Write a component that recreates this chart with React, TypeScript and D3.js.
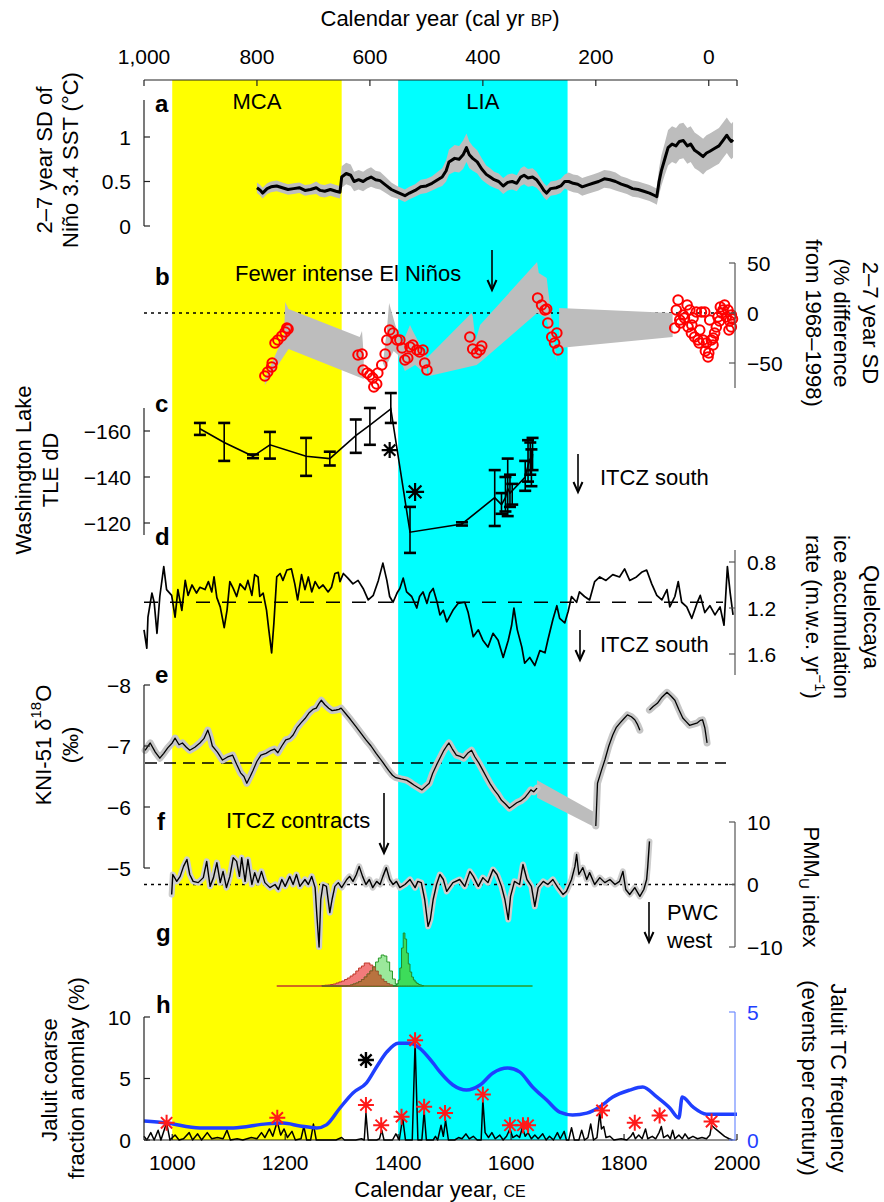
import React from 'react';
import * as d3 from 'd3';

const FONT = 'Liberation Sans, Arial, Helvetica, sans-serif';

// ---------------- axes ----------------
const bottomTicks = [1000, 1200, 1400, 1600, 1800, 2000];
const topTicks = [1000, 800, 600, 400, 200, 0];
const topTickLabels = ['1,000', '800', '600', '400', '200', '0'];
const periods = [
  { name: 'MCA', start: 1000, end: 1300, color: '#ffff00' },
  { name: 'LIA', start: 1400, end: 1700, color: '#00ffff' },
];

// ---------------- panel a: 2-7 yr SD of Nino 3.4 SST ----------------
const aYears = [1150,1156,1160,1168,1175,1185,1195,1205,1215,1225,1235,1245,1255,1262,1270,1280,1290,1297,1300,1308,1316,1322,1330,1338,1345,1352,1360,1368,1378,1388,1398,1405,1412,1420,1430,1440,1450,1460,1470,1478,1485,1490,1500,1508,1515,1521,1526,1532,1540,1548,1556,1563,1570,1578,1586,1594,1602,1610,1617,1623,1630,1638,1645,1652,1658,1663,1670,1680,1688,1695,1702,1710,1718,1726,1735,1745,1755,1765,1775,1785,1795,1805,1815,1825,1835,1845,1855,1858,1862,1866,1872,1878,1885,1892,1898,1905,1912,1918,1925,1932,1940,1946,1952,1960,1968,1975,1982,1986,1990,1993];
const aVals = [0.43,0.40,0.37,0.42,0.44,0.45,0.43,0.41,0.42,0.43,0.40,0.41,0.43,0.40,0.39,0.41,0.39,0.38,0.55,0.59,0.57,0.50,0.52,0.50,0.53,0.55,0.52,0.51,0.46,0.41,0.38,0.36,0.34,0.37,0.40,0.44,0.45,0.48,0.52,0.55,0.62,0.72,0.76,0.75,0.80,0.88,0.80,0.76,0.72,0.64,0.58,0.55,0.52,0.50,0.45,0.49,0.50,0.48,0.55,0.57,0.54,0.55,0.52,0.46,0.40,0.37,0.42,0.43,0.45,0.50,0.50,0.48,0.47,0.44,0.46,0.48,0.50,0.53,0.52,0.50,0.47,0.45,0.42,0.41,0.39,0.37,0.34,0.33,0.50,0.62,0.75,0.88,0.92,0.90,0.95,0.96,0.90,0.92,0.85,0.82,0.78,0.82,0.84,0.87,0.90,0.96,1.02,0.98,0.95,0.97];
const aErr = [0.06,0.06,0.06,0.06,0.06,0.06,0.06,0.06,0.06,0.06,0.06,0.06,0.07,0.07,0.07,0.07,0.07,0.07,0.12,0.12,0.12,0.11,0.11,0.11,0.11,0.11,0.10,0.10,0.09,0.08,0.07,0.07,0.07,0.07,0.07,0.08,0.08,0.08,0.09,0.10,0.12,0.14,0.15,0.15,0.16,0.16,0.15,0.14,0.13,0.12,0.10,0.10,0.09,0.09,0.09,0.09,0.09,0.09,0.10,0.10,0.10,0.10,0.09,0.08,0.08,0.08,0.08,0.08,0.08,0.08,0.10,0.10,0.10,0.10,0.10,0.10,0.10,0.10,0.10,0.10,0.09,0.09,0.09,0.09,0.09,0.09,0.09,0.09,0.15,0.17,0.18,0.20,0.20,0.20,0.20,0.20,0.20,0.20,0.20,0.20,0.20,0.20,0.20,0.20,0.20,0.20,0.20,0.20,0.20,0.20];

// ---------------- panel b: % difference from 1968-1998 ----------------
const bPoints = [
  [1164,-63],[1169,-59],[1176,-54],[1177,-50],[1182,-30],[1187,-27],[1194,-23],[1200,-19],[1205,-16],[1203,-15],
  [1329,-42],[1336,-41],[1338,-57],[1345,-60],[1350,-62],[1355,-65],[1362,-71],[1357,-74],[1364,-60],[1371,-52],[1377,-41],
  [1380,-27],[1385,-17],[1391,-20],[1398,-27],[1403,-27],[1407,-35],[1412,-47],[1417,-45],[1421,-34],[1426,-32],[1433,-37],[1438,-39],[1444,-37],[1447,-50],[1451,-57],
  [1527,-24],[1532,-36],[1539,-40],[1545,-37],[1548,-33],
  [1647,15],[1654,8],[1660,3],[1663,4],[1665,-10],[1672,-24],[1681,-20],[1677,-30],[1683,-37],
];
const bCluster = [
  [1895.7,13],[1892.6,3],[1889.8,-15],[1898.7,-7],[1900,-10],[1904.6,-2],[1907,-5],[1911.7,8],[1916.4,3],[1913.4,-14],[1919.3,-20],[1920,-12],[1922.2,-5],[1928,1],[1925,-24],[1930.9,-27],[1933,-30],[1934,-17],[1937,1],[1942.9,1],[1940,-27],[1944,-38],[1945.8,-30],[1948.7,-44],[1950,-40],[1951.7,-7],[1954.6,-27],[1957.5,-32],[1958,-25],[1960.4,-20],[1963.4,-14],[1966.3,-4],[1969,-8],[1970.5,6],[1973,0],[1975.2,3],[1978.1,8],[1981.1,-4],[1984,3],[1985.8,-17],[1987,-8],[1990,-2],[1990,-14],[1992,-6],
];
const bEnvelopes = [
  [[1164,-72],[1164,-66],[1198,-22],[1200,11],[1206,4],[1332,-24],[1336,-18],[1339,-42],[1339,-66],[1206,-36]],
  [[1373,-50],[1380,-17],[1384,10],[1395,-12],[1406,-30],[1410,-27],[1421,-12],[1426,-18],[1451,-45],[1451,-62],[1430,-52],[1412,-58],[1400,-42],[1392,-38],[1377,-55]],
  [[1451,-45],[1530,0],[1532,-3],[1537,-28],[1545,-12],[1646,51],[1649,40],[1663,35],[1681,-49],[1662,-5],[1646,0],[1550,-47],[1539,-52],[1455,-63]],
  [[1685,5],[1886,0],[1886,-24],[1685,-35]],
];

// ---------------- panel c: Washington Lake TLE dD ----------------
const cYears = [1049,1092,1143,1173,1237,1279,1325,1350,1387,1421,1513,1571,1583,1590,1594,1598,1602,1625,1630,1634,1636,1638];
const cVals = [-161,-155,-149,-154,-149,-148,-158,-162.6,-169.6,-116,-119.6,-131,-128,-131,-135,-133,-134,-140,-145,-148,-143,-150];
const cErrTop = [-163.5,-163.5,-149.8,-159.6,-157,-151,-165,-170,-176.5,-127,-120.3,-143,-133,-140,-148,-141,-137,-147,-156,-155,-152,-157];
const cErrBot = [-158.3,-147,-148.2,-148,-140.5,-145,-150.5,-154,-163.5,-107,-118.9,-118.7,-124,-125,-123,-127,-128,-134,-138,-141,-136,-143];
const cStars = [[1385,-151.7],[1430,-133.5]];

// ---------------- panel d: Quelccaya ice accumulation ----------------
const dData = [
  [950,1.39],[955,1.55],[957,1.28],[964,1.07],[968,1.15],[973,1.42],[978,1.10],[985,0.84],[990,1.04],[999,1.09],[1005,1.28],[1010,1.04],[1017,1.22],[1023,0.96],[1028,1.09],[1035,1.00],[1043,1.07],[1049,1.02],[1058,1.04],[1064,0.97],[1070,1.06],[1074,0.93],[1079,1.11],[1085,1.19],[1092,1.37],[1097,1.22],[1102,0.97],[1108,1.03],[1114,1.10],[1120,0.99],[1129,1.04],[1134,0.96],[1141,1.09],[1146,0.91],[1152,0.93],[1155,1.10],[1161,1.07],[1167,1.22],[1171,1.39],[1176,1.59],[1180,1.33],[1185,0.93],[1191,0.90],[1196,0.96],[1203,0.87],[1211,0.86],[1217,0.99],[1222,1.13],[1229,0.91],[1235,1.04],[1241,0.93],[1247,1.06],[1253,0.97],[1260,1.03],[1267,1.00],[1276,1.06],[1282,1.02],[1288,0.90],[1294,0.89],[1297,0.97],[1303,0.90],[1311,0.94],[1320,0.99],[1329,0.96],[1338,1.03],[1347,1.13],[1356,1.09],[1365,0.96],[1373,0.81],[1380,0.96],[1385,1.10],[1391,1.15],[1398,1.07],[1403,1.03],[1409,0.94],[1415,1.06],[1424,1.10],[1433,1.20],[1438,1.10],[1444,1.06],[1451,1.16],[1456,1.07],[1462,1.03],[1469,1.15],[1474,1.26],[1480,1.22],[1486,1.32],[1497,1.22],[1506,1.16],[1518,1.15],[1524,1.24],[1533,1.45],[1542,1.39],[1550,1.48],[1559,1.54],[1568,1.42],[1577,1.48],[1586,1.63],[1595,1.48],[1601,1.35],[1605,1.20],[1611,1.39],[1619,1.54],[1624,1.68],[1633,1.63],[1642,1.70],[1651,1.57],[1660,1.59],[1665,1.48],[1674,1.30],[1681,1.18],[1686,1.29],[1695,1.33],[1701,1.23],[1707,1.10],[1716,1.15],[1721,1.06],[1730,1.10],[1739,1.13],[1748,0.97],[1757,0.93],[1768,0.96],[1780,0.91],[1792,0.93],[1801,0.86],[1810,0.96],[1822,0.93],[1831,0.89],[1840,0.87],[1849,0.99],[1858,1.09],[1867,1.13],[1876,1.04],[1881,1.19],[1890,1.10],[1896,0.97],[1902,1.15],[1911,1.19],[1920,1.29],[1929,1.16],[1935,1.09],[1943,1.24],[1952,1.18],[1961,1.26],[1970,1.19],[1977,1.35],[1983,0.84],[1988,1.07],[1993,1.26],
];
const dMean = 1.15;

// ---------------- panel e: KNI-51 d18O ----------------
const eData = [
  [952,-6.93],[961,-7.05],[970,-6.9],[978,-6.8],[985,-6.88],[992,-6.97],[1000,-7.05],[1005,-7.13],[1012,-7.02],[1018,-7.05],[1025,-6.98],[1031,-6.93],[1040,-6.98],[1049,-7.05],[1056,-7.12],[1063,-7.26],[1067,-7.15],[1071,-7.0],[1080,-6.9],[1089,-6.77],[1098,-6.82],[1107,-6.85],[1114,-6.7],[1121,-6.56],[1127,-6.5],[1132,-6.39],[1138,-6.5],[1143,-6.6],[1150,-6.75],[1157,-6.85],[1166,-6.88],[1175,-6.93],[1181,-6.95],[1187,-6.89],[1194,-7.0],[1201,-7.1],[1208,-7.12],[1214,-7.18],[1221,-7.3],[1228,-7.38],[1235,-7.45],[1242,-7.54],[1249,-7.6],[1255,-7.62],[1260,-7.7],[1264,-7.75],[1270,-7.68],[1277,-7.62],[1283,-7.58],[1290,-7.59],[1295,-7.6],[1299,-7.62],[1308,-7.52],[1316,-7.43],[1325,-7.32],[1334,-7.21],[1343,-7.1],[1352,-7.0],[1361,-6.88],[1370,-6.77],[1377,-6.68],[1383,-6.6],[1390,-6.52],[1396,-6.48],[1405,-6.46],[1415,-6.44],[1422,-6.4],[1428,-6.36],[1435,-6.32],[1442,-6.28],[1448,-6.33],[1455,-6.39],[1461,-6.55],[1468,-6.69],[1475,-6.82],[1481,-6.93],[1486,-7.0],[1490,-7.05],[1496,-6.95],[1503,-6.85],[1510,-6.83],[1516,-6.8],[1523,-6.88],[1530,-6.93],[1536,-6.82],[1543,-6.72],[1550,-6.6],[1557,-6.48],[1563,-6.38],[1570,-6.28],[1577,-6.2],[1583,-6.11],[1590,-6.05],[1597,-5.98],[1603,-6.02],[1610,-6.07],[1617,-6.1],[1624,-6.15],[1630,-6.22],[1635,-6.28],[1640,-6.25],[1646,-6.31],
  [1700,null],
  [1750,-5.69],[1753,-6.39],[1760,-6.6],[1766,-6.77],[1773,-7.0],[1780,-7.18],[1786,-7.3],[1793,-7.38],[1800,-7.45],[1806,-7.51],[1813,-7.48],[1819,-7.43],[1824,-7.35],[1828,-7.26],
  [1836,null],
  [1845,-7.59],[1852,-7.65],[1859,-7.7],[1867,-7.8],[1876,-7.88],[1883,-7.82],[1890,-7.75],[1897,-7.6],[1904,-7.46],[1910,-7.4],[1916,-7.34],[1923,-7.36],[1930,-7.38],[1935,-7.42],[1939,-7.43],[1943,-7.3],[1947,-7.05],
];
const eGapBand = [[1646,-6.44],[1750,-5.9],[1750,-5.66],[1646,-6.15]];
const eMean = -6.72;

// ---------------- panel f: PMMU index ----------------
const fData = [
  [999,-1.6],[1001,1.6],[1008,0.5],[1014,1.3],[1020,2.9],[1026,4.0],[1031,1.6],[1037,0.5],[1046,0.3],[1055,1.1],[1061,3.7],[1067,-0.3],[1073,1.1],[1079,3.5],[1085,0.3],[1090,2.1],[1096,-0.5],[1102,1.3],[1108,4.3],[1114,3.7],[1119,1.3],[1123,4.3],[1129,0.5],[1134,4.0],[1141,0],[1146,1.9],[1152,0.3],[1158,2.1],[1164,0.3],[1173,-0.5],[1182,0],[1188,-0.8],[1194,0.8],[1200,-0.3],[1208,1.3],[1214,0],[1220,1.6],[1226,-0.3],[1235,0.8],[1241,0],[1247,1.3],[1253,-0.5],[1256,-4.8],[1260,-10],[1263,-2.4],[1267,0],[1273,-0.3],[1279,-4.5],[1283,-2.4],[1288,-0.3],[1294,0.3],[1300,-0.5],[1309,0.8],[1314,1.3],[1320,0.5],[1326,1.6],[1331,2.9],[1337,1.3],[1343,0],[1349,0.8],[1355,-0.5],[1362,0.5],[1368,0],[1373,1.3],[1379,2.7],[1385,0.8],[1391,0],[1397,0.5],[1403,-0.5],[1412,0],[1421,0.8],[1430,-0.5],[1435,0.5],[1441,0.3],[1447,-2.4],[1453,-6.7],[1457,-5.6],[1462,-2.4],[1468,0],[1474,1.6],[1480,0.8],[1486,-1.1],[1497,0.3],[1509,0.8],[1518,-0.3],[1527,2.1],[1533,1.3],[1542,-0.3],[1550,1.1],[1559,0.3],[1568,2.4],[1575,1.6],[1583,-0.3],[1589,-2.4],[1595,-5.6],[1599,-1.9],[1606,0.5],[1615,0],[1621,3.2],[1628,0.8],[1636,-0.3],[1642,-3.5],[1648,-0.5],[1657,0.5],[1665,0],[1674,0.8],[1683,-0.5],[1692,-1.6],[1698,-1.1],[1707,0.8],[1713,2.9],[1716,4.8],[1720,1.6],[1727,2.7],[1734,0.8],[1739,1.9],[1748,0],[1757,1.1],[1766,0.3],[1775,0.8],[1784,0],[1792,0.5],[1798,2.1],[1803,-0.8],[1810,-1.6],[1819,-0.5],[1828,-1.9],[1835,-0.8],[1840,0.8],[1842,2.9],[1845,6.9],
];

// ---------------- panel g: age distributions ----------------
const gYears = [1265,1270,1275,1280,1285,1290,1295,1300,1305,1310,1315,1320,1325,1330,1335,1340,1345,1350,1355,1360,1365,1370,1375,1380,1385,1390,1395,1400];
const gRed = [0.5,0.8,1,1.5,2,3,4,5,6.5,8,10,12,15,18,20,23,23,21,19,15,11,7,4.5,2.5,1.2,0.5,0,0];
const gGreen1 = [0,0,0,0,0,0,0,0,0,0.5,1,2,3,4.5,6.5,9,12,15,19,24,28,31,30,24,15,7,2,0];
const g2Years = [1391,1394,1397,1400,1403,1406,1409,1412,1415,1418,1421,1424,1427,1430,1433,1436,1439,1442,1445];
const gGreen2 = [0,0.5,2,6,18,38,53,47,33,22,14,9,6,4,2.5,1.5,1,0.5,0];

// ---------------- panel h: Jaluit ----------------
const hCoarse = [
  [950,0.3],[955,0],[962,0.6],[968,0],[975,0.8],[980,0],[990,1.4],[996,0],[1005,0.4],[1012,0],[1020,0.1],[1030,0.6],[1036,0],[1045,0.5],[1052,0],[1062,0.6],[1070,0.1],[1080,0.2],[1090,0.1],[1097,0.8],[1103,0],[1115,0.1],[1125,0],[1140,0.2],[1150,0.1],[1158,0.6],[1164,0.2],[1172,0.9],[1178,0.3],[1186,1.5],[1192,0.4],[1198,0.9],[1204,0.2],[1212,0.7],[1218,0],[1228,0.1],[1233,1.1],[1238,0],[1245,0],[1250,1.3],[1255,0],[1270,0],[1290,0],[1300,0.2],[1305,0],[1325,0],[1335,0.1],[1340,0],[1343,2.2],[1347,0],[1362,0],[1367,0.1],[1371,0.8],[1375,0],[1390,0],[1396,0.5],[1402,0],[1408,1.8],[1413,0],[1425,0],[1430,7.9],[1435,0],[1442,0],[1446,2.3],[1450,0],[1462,0],[1466,0.3],[1470,0],[1476,1.2],[1480,0.3],[1484,1.6],[1489,0],[1500,0],[1507,0.2],[1513,0.1],[1520,0.5],[1526,0.1],[1533,0.3],[1540,0],[1547,0],[1550,3.25],[1554,0.6],[1560,0.2],[1566,0.6],[1572,0.1],[1580,0.4],[1586,0],[1592,0.3],[1598,0.9],[1603,0.2],[1610,0.4],[1615,0.2],[1620,1.0],[1625,0.3],[1630,0.6],[1636,0.1],[1642,0.4],[1648,0.1],[1656,0.5],[1662,0],[1668,0.3],[1675,0],[1682,0.6],[1687,0.1],[1694,0.7],[1698,0],[1702,0],[1707,1.0],[1712,0],[1720,0],[1725,0.8],[1730,0],[1736,0.2],[1741,1.3],[1746,0],[1752,0.2],[1757,2.2],[1760,0.9],[1764,1.1],[1768,0.2],[1775,0.3],[1782,0],[1795,0.1],[1805,0],[1812,0.3],[1816,0.6],[1820,0.1],[1826,0.4],[1832,0.1],[1838,0.9],[1842,0.1],[1850,0.3],[1856,0.1],[1862,0.6],[1866,1.1],[1870,0.2],[1877,0.4],[1882,0.1],[1886,0.8],[1890,0.1],[1897,0.4],[1903,0.1],[1908,0.5],[1914,0.1],[1922,0.3],[1930,0.1],[1938,0.2],[1946,0.1],[1952,0.4],[1955,1.2],[1962,0.9],[1970,0.6],[1978,0.3],[1986,0.1],[1992,0],
];
const hTCYears = [950,990,1049,1108,1167,1196,1226,1256,1273,1297,1320,1344,1362,1380,1400,1421,1438,1462,1474,1497,1521,1545,1568,1594,1615,1638,1663,1686,1709,1734,1757,1780,1810,1833,1858,1881,1897,1903,1922,1946,1975,2000];
const hTCVals = [0.74,0.66,0.47,0.47,0.63,0.66,0.55,0.47,0.59,1.25,1.84,2.23,2.86,3.44,3.78,3.78,3.59,3.0,2.66,2.15,1.95,2.15,2.62,2.81,2.66,2.07,1.56,1.09,0.98,1.05,1.29,1.68,1.95,2.07,1.68,1.25,0.86,1.68,1.29,1.01,1.01,1.01];
const hEvents = [[990,1.4],[1186,1.8],[1343,2.85],[1370,1.2],[1406,1.9],[1430,8.1],[1446,2.7],[1483,2.2],[1550,3.7],[1598,1.2],[1621,1.2],[1630,1.2],[1761,2.4],[1819,1.4],[1863,2.0],[1955,1.5]];
const hBlackStar = [1343, 6.5];

// ---------------- helpers ----------------
const Star = ({ cx, cy, r, color, w }: any) => {
  const k = r * 0.7071;
  return (
    <path
      d={`M${cx - r},${cy}L${cx + r},${cy}M${cx},${cy - r}L${cx},${cy + r}M${cx - k},${cy - k}L${cx + k},${cy + k}M${cx - k},${cy + k}L${cx + k},${cy - k}`}
      stroke={color}
      strokeWidth={w}
      fill="none"
    />
  );
};

const Arrow = ({ x, y1, y2 }: any) => (
  <g stroke="#000" fill="none">
    <line x1={x} x2={x} y1={y1} y2={y2 - 1} strokeWidth={1.6} />
    <path d={`M${x - 4.5},${y2 - 10}L${x},${y2}L${x + 4.5},${y2 - 10}`} strokeWidth={2} />
  </g>
);

const LeftAxis = ({ scale, ticks, labels, top, bottom, color = '#222' }: any) => (
  <g>
    <line x1={144} x2={144} y1={top} y2={bottom} stroke={color} strokeWidth={1.2} />
    {ticks.map((t: number, i: number) => (
      <g key={i}>
        <line x1={144} x2={150} y1={scale(t)} y2={scale(t)} stroke={color} strokeWidth={1.2} />
        <text x={131} y={scale(t)} textAnchor="end" dominantBaseline="central" fontSize={21}>
          {labels[i]}
        </text>
      </g>
    ))}
  </g>
);

const RightAxis = ({ scale, ticks, labels, top, bottom, color = '#555', textColor = '#000' }: any) => (
  <g>
    <line x1={735} x2={735} y1={top} y2={bottom} stroke={color} strokeWidth={1.2} />
    {ticks.map((t: number, i: number) => (
      <g key={i}>
        <line x1={729} x2={735} y1={scale(t)} y2={scale(t)} stroke={color} strokeWidth={1.2} />
        <text x={747} y={scale(t)} textAnchor="start" dominantBaseline="central" fontSize={21} fill={textColor}>
          {labels[i]}
        </text>
      </g>
    ))}
  </g>
);

const VText = ({ x, y, rot, children, size = 22 }: any) => (
  <text transform={`translate(${x},${y}) rotate(${rot})`} textAnchor="middle" dominantBaseline="central" fontSize={size}>
    {children}
  </text>
);

const PanelLetter = ({ x, y, t }: any) => (
  <text x={x} y={y} fontSize={24} fontWeight="bold">{t}</text>
);

export default function App() {
  const x = d3.scaleLinear().domain([950, 2000]).range([144, 737]);
  const xBP = d3.scaleLinear().domain([1000, -50]).range([144, 737]);

  const yA = d3.scaleLinear().domain([0, 1]).range([226, 137]);
  const yB = d3.scaleLinear().domain([0, 50]).range([313, 263]);
  const yC = d3.scaleLinear().domain([-160, -120]).range([431, 523]);
  const yD = d3.scaleLinear().domain([0.8, 1.6]).range([562, 654]);
  const yE = d3.scaleLinear().domain([-8, -5]).range([685, 868]);
  const yF = d3.scaleLinear().domain([-10, 10]).range([947, 822]);
  const yG = d3.scaleLinear().domain([0, 60]).range([986, 926]);
  const yH = d3.scaleLinear().domain([0, 10]).range([1140, 1017]);
  const yH2 = d3.scaleLinear().domain([0, 5]).range([1140, 1012]);

  // panel a
  const aIdx = aYears.map((_, i) => i);
  const aArea = d3.area<number>().x((i) => x(aYears[i])).y0((i) => yA(aVals[i] - aErr[i])).y1((i) => yA(aVals[i] + aErr[i]));
  const aLine = d3.line<number>().x((i) => x(aYears[i])).y((i) => yA(aVals[i]));

  const polyPath = (pts: number[][], ys: any) =>
    (d3.line<number[]>().x((p) => x(p[0])).y((p) => ys(p[1])) as any)(pts) + 'Z';

  // panel c
  const cIdx = cYears.map((_, i) => i);
  const cLine = d3.line<number>().x((i) => x(cYears[i])).y((i) => yC(cVals[i]));

  // panel d
  const dLine = d3.line<number[]>().x((p) => x(p[0])).y((p) => yD(p[1]));
  // panel e
  const eLine = d3.line<any[]>().defined((p) => p[1] !== null).x((p) => x(p[0])).y((p) => yE(p[1]));
  // panel f
  const fLine = d3.line<number[]>().x((p) => x(p[0])).y((p) => yF(p[1]));
  // panel g
  const gArea = (vals: number[], yrs: number[]) =>
    d3.area<number>().curve(d3.curveStepAfter).x((i) => x(yrs[i])).y0(yG(0)).y1((i) => yG(vals[i]))(yrs.map((_, i) => i));
  const gOverlap = gRed.map((v, i) => Math.min(v, gGreen1[i]));
  // panel h
  const hLine = d3.line<number[]>().x((p) => x(p[0])).y((p) => yH(p[1]));
  const hTCIdx = hTCYears.map((_, i) => i);
  const hTCLine = d3.line<number>().curve(d3.curveMonotoneX).x((i) => x(hTCYears[i])).y((i) => yH2(hTCVals[i]));

  return (
    <svg width={884} height={1202} style={{ position: 'absolute', left: 0, top: 0, background: '#fff' }} fontFamily={FONT}>
      <rect x={0} y={0} width={884} height={1202} fill="#fff" />
      {/* period bands */}
      {periods.map((p) => (
        <rect key={p.name} x={x(p.start)} y={80} width={x(p.end) - x(p.start)} height={1060} fill={p.color} />
      ))}
      {periods.map((p) => (
        <text key={p.name + 't'} x={(x(p.start) + x(p.end)) / 2} y={109} textAnchor="middle" fontSize={22}>
          {p.name}
        </text>
      ))}

      {/* top axis */}
      <text x={440} y={26} textAnchor="middle" fontSize={22}>
        Calendar year (cal yr <tspan fontSize={16}>BP</tspan>)
      </text>
      <line x1={144} x2={737} y1={80} y2={80} stroke="#222" strokeWidth={1.2} />
      {topTicks.map((t, i) => (
        <g key={t}>
          <line x1={xBP(t)} x2={xBP(t)} y1={80} y2={86} stroke="#222" strokeWidth={1.2} />
          <text x={xBP(t)} y={64} textAnchor="middle" fontSize={21}>{topTickLabels[i]}</text>
        </g>
      ))}
      <line x1={737} x2={737} y1={80} y2={86} stroke="#222" strokeWidth={1.2} />

      {/* bottom axis */}
      <line x1={144} x2={737} y1={1140} y2={1140} stroke="#222" strokeWidth={1.2} />
      {bottomTicks.map((t) => (
        <g key={t}>
          <line x1={x(t)} x2={x(t)} y1={1140} y2={1134} stroke="#222" strokeWidth={1.2} />
          <text x={x(t)} y={1170} textAnchor="middle" fontSize={21}>{t}</text>
        </g>
      ))}
      <text x={440} y={1197} textAnchor="middle" fontSize={22}>
        Calendar year, <tspan fontSize={16}>CE</tspan>
      </text>

      {/* ---------- panel a ---------- */}
      <PanelLetter x={155} y={112} t="a" />
      <LeftAxis scale={yA} ticks={[0, 0.5, 1]} labels={['0', '0.5', '1']} top={100} bottom={226} />
      <path d={aArea(aIdx) as string} fill="#bdbdbd" />
      <path d={aLine(aIdx) as string} fill="none" stroke="#000" strokeWidth={3} strokeLinejoin="round" />
      <VText x={44} y={160} rot={-90}>2–7 year SD of</VText>
      <VText x={70} y={160} rot={-90}>Niño 3.4 SST (°C)</VText>

      {/* ---------- panel b ---------- */}
      <PanelLetter x={155} y={285} t="b" />
      <line x1={144} x2={735} y1={yB(0)} y2={yB(0)} stroke="#000" strokeWidth={1.5} strokeDasharray="3,4" />
      {bEnvelopes.map((pts, i) => (
        <path key={i} d={polyPath(pts, yB)} fill="#bdbdbd" />
      ))}
      {bPoints.concat(bCluster).map((p, i) => (
        <circle key={i} cx={x(p[0])} cy={yB(p[1])} r={4.8} fill="none" stroke="#ff0000" strokeWidth={2} />
      ))}
      <RightAxis scale={yB} ticks={[50, 0, -50]} labels={['50', '0', '−50']} top={263} bottom={388} />
      <text x={235} y={281} fontSize={22}>Fewer intense El Niños</text>
      <Arrow x={492} y1={250} y2={290} />
      <VText x={870} y={323} rot={90}>2–7 year SD</VText>
      <VText x={841} y={323} rot={90}>(% difference</VText>
      <VText x={813} y={323} rot={90}>from 1968–1998)</VText>

      {/* ---------- panel c ---------- */}
      <PanelLetter x={155} y={412} t="c" />
      <LeftAxis scale={yC} ticks={[-160, -140, -120]} labels={['−160', '−140', '−120']} top={408} bottom={535} />
      <path d={cLine(cIdx) as string} fill="none" stroke="#000" strokeWidth={1.6} />
      {cIdx.map((i) => (
        <g key={i} stroke="#000">
          <line x1={x(cYears[i])} x2={x(cYears[i])} y1={yC(cErrTop[i])} y2={yC(cErrBot[i])} strokeWidth={1.6} />
          <line x1={x(cYears[i]) - 6} x2={x(cYears[i]) + 6} y1={yC(cErrTop[i])} y2={yC(cErrTop[i])} strokeWidth={2.6} />
          <line x1={x(cYears[i]) - 6} x2={x(cYears[i]) + 6} y1={yC(cErrBot[i])} y2={yC(cErrBot[i])} strokeWidth={2.6} />
        </g>
      ))}
      {cStars.map((s, i) => (
        <Star key={i} cx={x(s[0])} cy={yC(s[1])} r={i === 0 ? 8 : 9} color="#000" w={2.2} />
      ))}
      <text x={600} y={485} fontSize={22}>ITCZ south</text>
      <Arrow x={578} y1={454} y2={492} />
      <VText x={23} y={470} rot={-90}>Washington Lake</VText>
      <VText x={50} y={470} rot={-90}>TLE dD</VText>

      {/* ---------- panel d ---------- */}
      <PanelLetter x={155} y={545} t="d" />
      <line x1={144} x2={723} y1={yD(dMean)} y2={yD(dMean)} stroke="#000" strokeWidth={1.5} strokeDasharray="14,12" />
      <path d={dLine(dData) as string} fill="none" stroke="#000" strokeWidth={1.7} strokeLinejoin="round" />
      <RightAxis scale={yD} ticks={[0.8, 1.2, 1.6]} labels={['0.8', '1.2', '1.6']} top={550} bottom={675} />
      <text x={600} y={652} fontSize={22}>ITCZ south</text>
      <Arrow x={580} y1={630} y2={660} />
      <VText x={871} y={617} rot={90}>Quelccaya</VText>
      <VText x={841} y={617} rot={90}>ice accumulation</VText>
      <VText x={813} y={617} rot={90}>
        rate (m.w.e. yr<tspan dy={-8} fontSize={15}>−1</tspan><tspan dy={8}>)</tspan>
      </VText>

      {/* ---------- panel e ---------- */}
      <PanelLetter x={155} y={683} t="e" />
      <line x1={145} x2={726} y1={yE(eMean)} y2={yE(eMean)} stroke="#000" strokeWidth={1.5} strokeDasharray="12,7" />
      <path d={polyPath(eGapBand, yE)} fill="#bdbdbd" />
      <path d={eLine(eData as any) as string} fill="none" stroke="#c6c6c6" strokeWidth={7} strokeLinejoin="round" strokeLinecap="round" />
      <path d={eLine(eData as any) as string} fill="none" stroke="#000" strokeWidth={1.3} strokeLinejoin="round" />
      <LeftAxis scale={yE} ticks={[-8, -7, -6, -5]} labels={['−8', '−7', '−6', '−5']} top={685} bottom={868} />
      <text x={226} y={828} fontSize={22}>ITCZ contracts</text>
      <Arrow x={384} y1={793} y2={853} />
      <VText x={43} y={745} rot={-90}>
        KNI-51 δ<tspan dy={-8} fontSize={15}>18</tspan><tspan dy={8}>O</tspan>
      </VText>
      <VText x={70} y={745} rot={-90}>(‰)</VText>

      {/* ---------- panel f ---------- */}
      <PanelLetter x={157} y={830} t="f" />
      <line x1={144} x2={735} y1={yF(0)} y2={yF(0)} stroke="#000" strokeWidth={1.5} strokeDasharray="3,4" />
      <path d={fLine(fData) as string} fill="none" stroke="#cdcdcd" strokeWidth={6} strokeLinejoin="round" strokeLinecap="round" />
      <path d={fLine(fData) as string} fill="none" stroke="#000" strokeWidth={1.4} strokeLinejoin="round" />
      <RightAxis scale={yF} ticks={[10, 0, -10]} labels={['10', '0', '−10']} top={822} bottom={947} />
      <text x={667} y={920} fontSize={22}>PWC</text>
      <text x={667} y={948} fontSize={22}>west</text>
      <Arrow x={649} y1={902} y2={942} />
      <VText x={811} y={887} rot={90}>
        PMM<tspan dy={6} fontSize={15}>U</tspan><tspan dy={-6}> index</tspan>
      </VText>

      {/* ---------- panel g ---------- */}
      <PanelLetter x={156} y={941} t="g" />
      <line x1={x(1185)} x2={x(1320)} y1={yG(0)} y2={yG(0)} stroke="#c0392b" strokeWidth={1.3} />
      <line x1={x(1320)} x2={x(1638)} y1={yG(0)} y2={yG(0)} stroke="#2a9a2a" strokeWidth={1.3} />
      <path d={gArea(gRed, gYears) as string} fill="#f27b7b" stroke="#c0392b" strokeWidth={1} />
      <path d={gArea(gGreen1, gYears) as string} fill="#9be89b" stroke="#2a9a2a" strokeWidth={1} />
      <path d={gArea(gOverlap, gYears) as string} fill="#b8733f" stroke="#8a4a25" strokeWidth={0.8} />
      <path d={gArea(gGreen2, g2Years) as string} fill="#3ddc5a" stroke="#1e8a2e" strokeWidth={1} />

      {/* ---------- panel h ---------- */}
      <PanelLetter x={156} y={1013} t="h" />
      <path d={hLine(hCoarse) as string} fill="none" stroke="#000" strokeWidth={1.5} strokeLinejoin="round" />
      <path d={hTCLine(hTCIdx) as string} fill="none" stroke="#1f3fff" strokeWidth={3.5} />
      {hEvents.map((e, i) => (
        <Star key={i} cx={x(e[0])} cy={yH(e[1])} r={8} color="#ff1a1a" w={2} />
      ))}
      <Star cx={x(hBlackStar[0])} cy={yH(hBlackStar[1])} r={8} color="#000" w={2.4} />
      <LeftAxis scale={yH} ticks={[0, 5, 10]} labels={['0', '5', '10']} top={1017} bottom={1140} />
      <RightAxis scale={yH2} ticks={[0, 5]} labels={['0', '5']} top={1012} bottom={1140} color="#6f8cff" textColor="#1f3fff" />
      <VText x={49} y={1080} rot={-90}>Jaluit coarse</VText>
      <VText x={76} y={1078} rot={-90}>fraction anomlay (%)</VText>
      <VText x={838} y={1078} rot={90}>Jaluit TC frequency</VText>
      <VText x={809} y={1078} rot={90}>(events per century)</VText>
    </svg>
  );
}
